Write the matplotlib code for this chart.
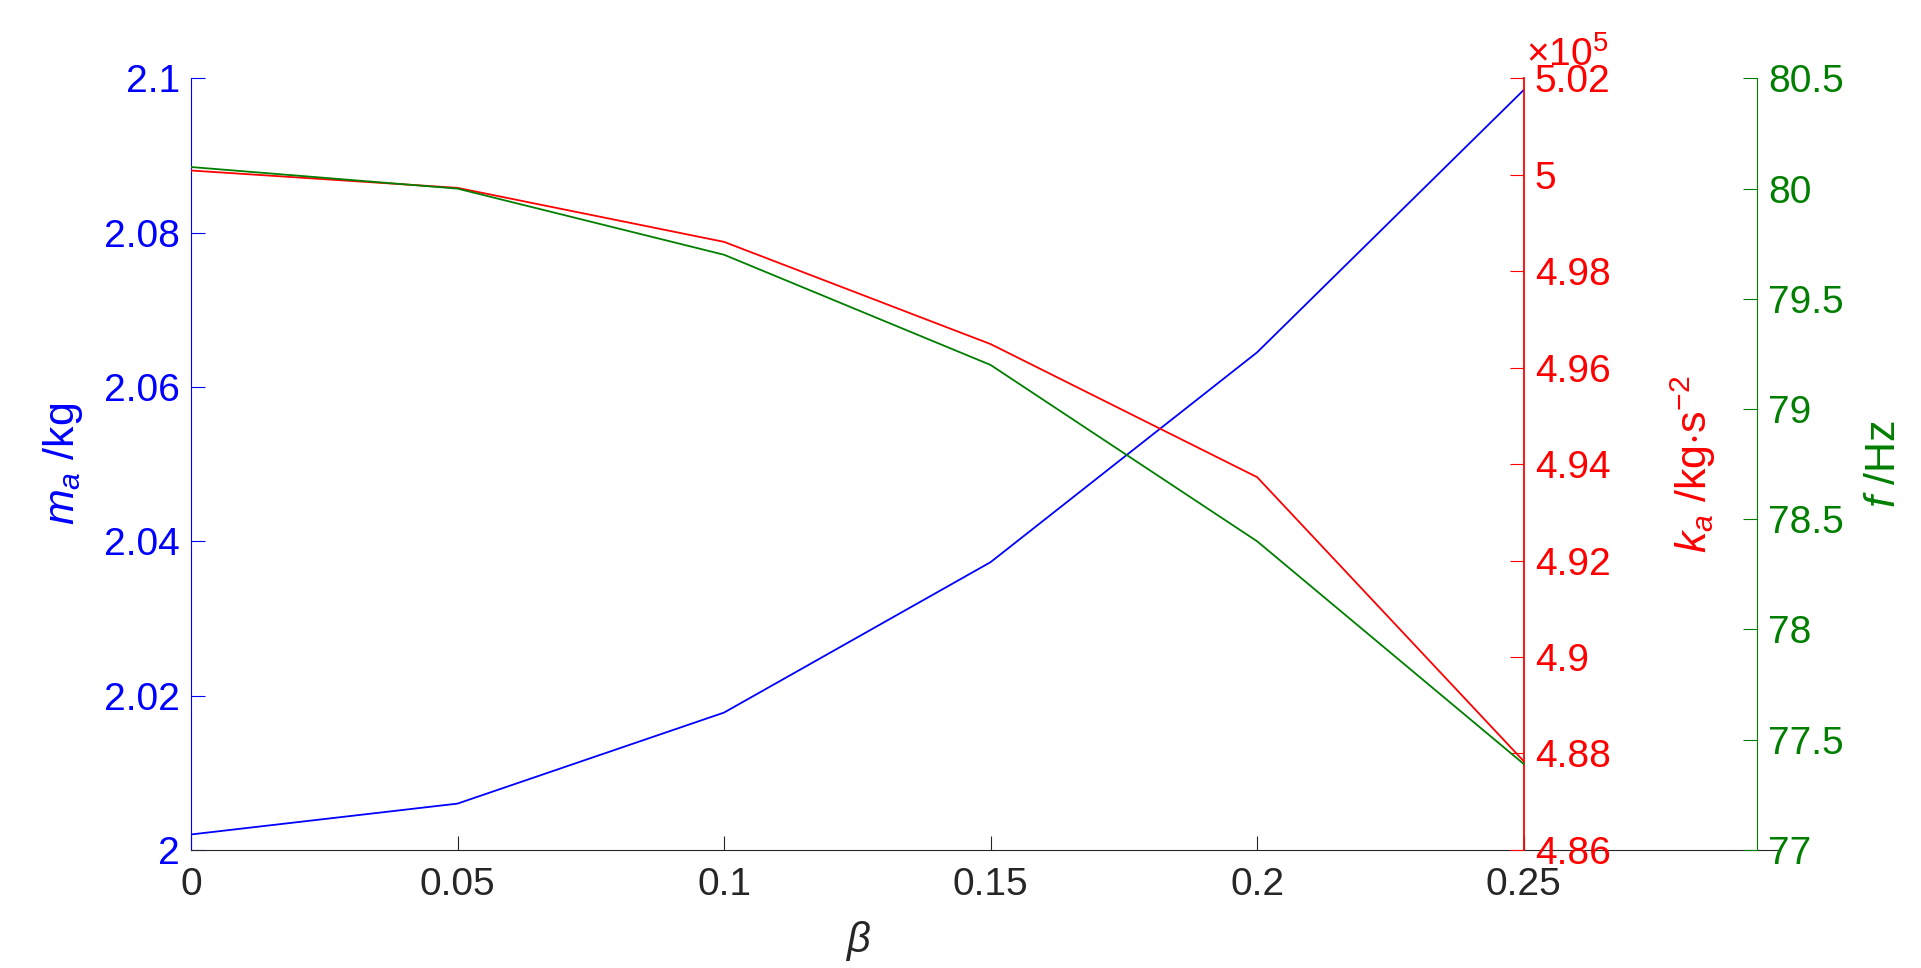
import matplotlib
matplotlib.use("Agg")
import matplotlib.pyplot as plt

plt.rcParams['font.family'] = ['Liberation Sans', 'DejaVu Sans']
plt.rcParams['mathtext.fontset'] = 'custom'
plt.rcParams['mathtext.rm'] = 'Liberation Sans'
plt.rcParams['mathtext.it'] = 'Liberation Sans:italic'

beta = [0, 0.05, 0.1, 0.15, 0.2, 0.25]
m_a = [2.002, 2.006, 2.0178, 2.0373, 2.0645, 2.0985]          # kg
k_a = [5.0009e5, 4.9973e5, 4.9861e5, 4.9649e5, 4.9373e5, 4.8784e5]  # kg s^-2
f_hz = [80.098, 80.0, 79.70, 79.20, 78.40, 77.39]             # Hz

fs = 28
dark = '#262626'
green = '#007f00'

fig = plt.figure(figsize=(19.21, 9.68), dpi=100)
ax = fig.add_axes([0.0994, 0.122, 0.827, 0.797])
ax.plot(beta, m_a, color='blue', lw=1.3)
ax.set_xlim(0, 0.298)
ax.set_ylim(2, 2.1)
ax.set_xticks(beta)
ax.set_xticklabels(['0', '0.05', '0.1', '0.15', '0.2', '0.25'])
ax.set_yticks([2, 2.02, 2.04, 2.06, 2.08, 2.1])
ax.set_yticklabels(['2', '2.02', '2.04', '2.06', '2.08', '2.1'])
ax.tick_params(axis='x', direction='in', length=10, colors=dark, labelsize=fs, pad=12)
ax.tick_params(axis='y', direction='in', length=10, colors='blue', labelsize=fs, pad=8)
ax.spines['left'].set_color('blue')
ax.spines['bottom'].set_color(dark)
ax.spines['top'].set_visible(False)
ax.spines['right'].set_visible(False)
ax.set_xlabel(r'$\beta$', fontsize=fs + 2, color=dark)
ax.xaxis.set_label_coords(0.42, -0.09)
ax.set_ylabel(r'$m_a$ /kg', fontsize=fs + 3, color='blue', labelpad=14)

# red axis at beta = 0.25
axr = ax.twinx()
axr.plot(beta, [k / 1e5 for k in k_a], color='red', lw=1.3)
axr.set_ylim(4.86, 5.02)
axr.set_yticks([4.86, 4.88, 4.9, 4.92, 4.94, 4.96, 4.98, 5.0, 5.02])
axr.set_yticklabels(['4.86', '4.88', '4.9', '4.92', '4.94', '4.96', '4.98', '5', '5.02'])
for s in ['left', 'top', 'bottom']:
    axr.spines[s].set_visible(False)
axr.spines['right'].set_position(('data', 0.25))
axr.spines['right'].set_color('red')
axr.spines['right'].set_linewidth(1.3)
axr.tick_params(axis='y', direction='in', length=10, colors='red', labelsize=fs, pad=8)
axr.set_ylabel(r'$k_a$ /kg$\cdot$s$^{-2}$', fontsize=fs + 3, color='red')
axr.yaxis.set_label_coords(0.93, 0.5)
axr.text(0.2505, 5.021, r'$\times$10$^5$', color='red', fontsize=fs,
         ha='left', va='bottom')

# green axis
axg = ax.twinx()
axg.plot(beta, f_hz, color=green, lw=1.3)
axg.set_ylim(77, 80.5)
axg.set_yticks([77, 77.5, 78, 78.5, 79, 79.5, 80, 80.5])
axg.set_yticklabels(['77', '77.5', '78', '78.5', '79', '79.5', '80', '80.5'])
for s in ['left', 'top', 'bottom']:
    axg.spines[s].set_visible(False)
axg.spines['right'].set_position(('axes', 0.986))
axg.spines['right'].set_color(green)
axg.tick_params(axis='y', direction='in', length=10, colors=green, labelsize=fs, pad=8)
axg.set_ylabel(r'$f$ /Hz', fontsize=fs + 3, color=green, labelpad=14)

fig.savefig('out.png', dpi=100, facecolor='white')
